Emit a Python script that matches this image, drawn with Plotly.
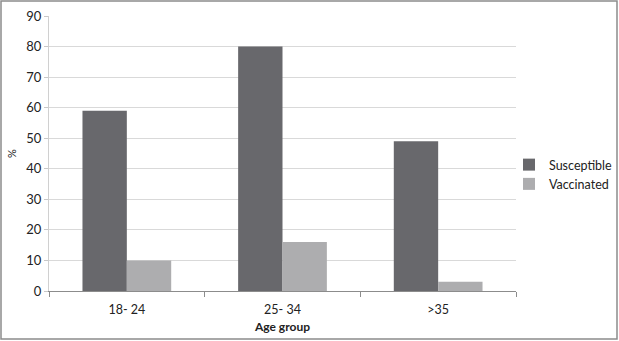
import plotly.graph_objects as go

categories = ["18- 24", "25- 34", ">35"]
susceptible = [59, 80, 49]
vaccinated = [10, 16, 3]
y_ticks = [0, 10, 20, 30, 40, 50, 60, 70, 80, 90]

W, H = 619, 341
ml, mr, mt, mb = 49, 103, 16, 50
pw, ph = W - ml - mr, H - mt - mb

fig = go.Figure()
fig.add_trace(go.Bar(name="Susceptible", x=categories, y=susceptible,
                     marker=dict(color="#68686c", line=dict(width=0))))
fig.add_trace(go.Bar(name="Vaccinated", x=categories, y=vaccinated,
                     marker=dict(color="#adadaf", line=dict(width=0))))

fig.update_layout(
    width=W, height=H,
    margin=dict(l=ml, r=mr, t=mt, b=mb, autoexpand=False),
    paper_bgcolor="white", plot_bgcolor="white",
    barmode="group", bargap=0.43, bargroupgap=0,
    font=dict(family="Lato, 'Open Sans', sans-serif", size=12, color="#222222"),
    showlegend=True,
    legend=dict(x=(509 - ml) / pw, y=(291 - 150) / ph, xanchor="left", yanchor="top",
                font=dict(size=12.5, color="#222222"), itemwidth=30, tracegroupgap=0,
                bgcolor="rgba(0,0,0,0)"),
    xaxis=dict(showline=True, linecolor="#8c8c8c", linewidth=1,
               ticks="outside", tickson="boundaries", ticklen=5, tickcolor="#8c8c8c",
               tickfont=dict(size=12.5), showgrid=False, ticklabelstandoff=7,
               title=dict(text="<b>Age group</b>", font=dict(size=12), standoff=6)),
    yaxis=dict(range=[0, 90], tickvals=y_ticks, showline=True, linecolor="#d0d0d0",
               ticks="outside", ticklen=4, tickcolor="#c8c8c8",
               gridcolor="#d9d9d9", gridwidth=1, tickfont=dict(size=13),
               zeroline=False,
               title=dict(text="%", font=dict(size=11, color="#222222"), standoff=7)),
    shapes=[dict(type="rect", xref="paper", yref="paper",
                 x0=(1 - ml) / pw, x1=(617 - ml) / pw,
                 y0=(291 - 339) / ph, y1=(291 - 1) / ph,
                 line=dict(color="#8c8c8c", width=1.5), fillcolor="rgba(0,0,0,0)",
                 layer="below")],
)

fig.write_html("out.html", config={"displayModeBar": False},
               post_script="document.body.style.margin='0';")
